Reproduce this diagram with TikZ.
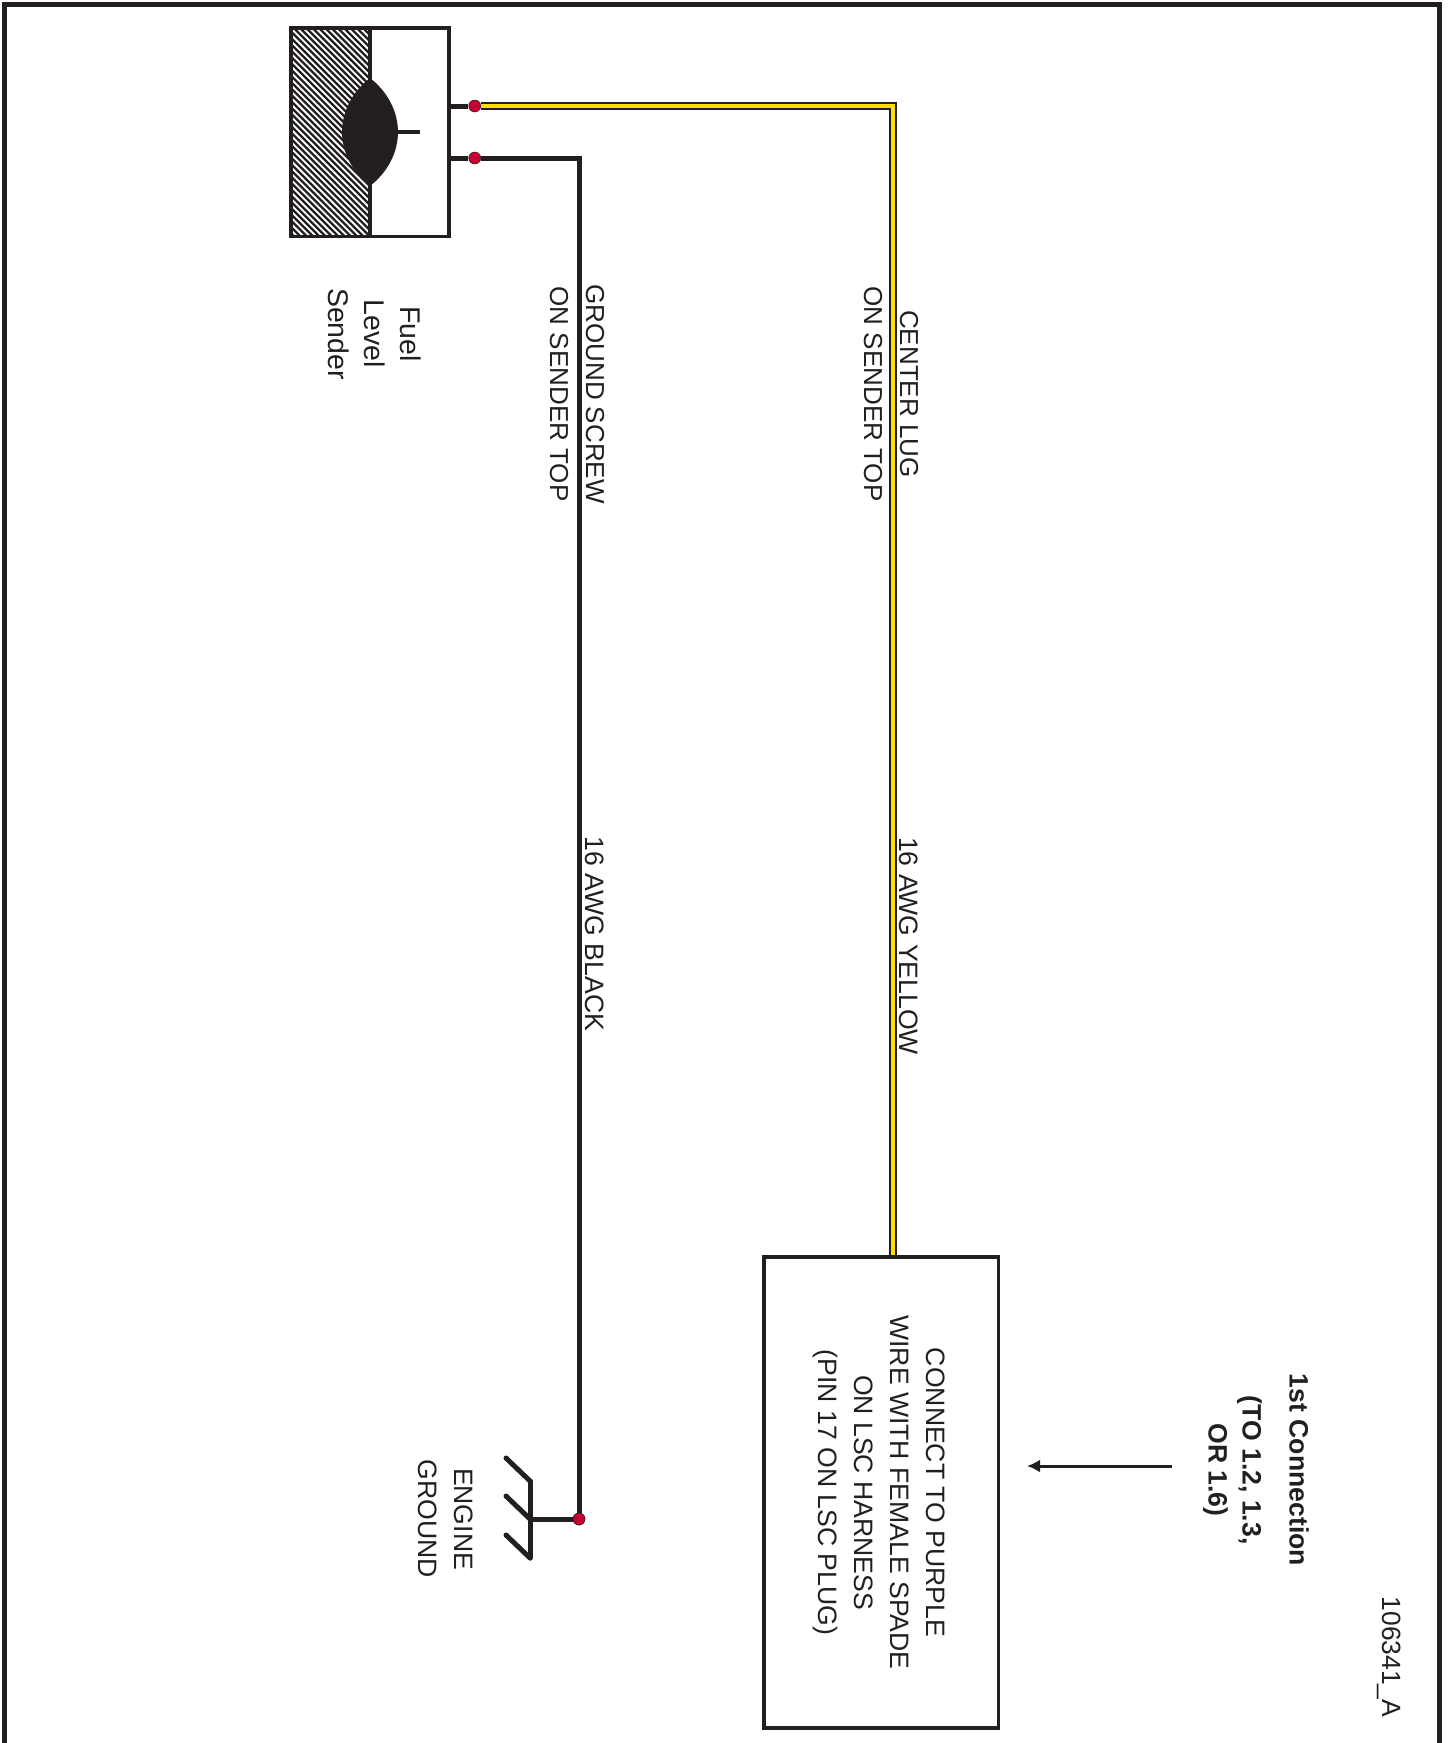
\documentclass[tikz,border=0pt]{standalone}
\usepackage{fontspec}
\setmainfont{Liberation Sans}
\usetikzlibrary{arrows.meta}
\definecolor{wirecol}{RGB}{35,31,32}
\definecolor{dotred}{RGB}{200,0,50}
\definecolor{wireyel}{RGB}{255,222,0}
\tikzset{
  label26/.style={rotate=-90,align=center,inner sep=0pt,font=\fontsize{26.6}{36}\selectfont,text=wirecol},
  reddot/.style={circle,fill=dotred,draw=wirecol,line width=0.5,minimum size=12,inner sep=0pt},
  blackwire/.style={line width=5,draw=wirecol},
  yellowwire/.style={line width=1.3,draw=wirecol,double=wireyel,double distance=4.6}
}
\begin{document}
\begin{tikzpicture}[x=1pt,y=-1pt,line join=miter]
\useasboundingbox (0,0) rectangle (1448,1743);
% outer frame
\draw[line width=5,wirecol] (4.5,1743)--(4.5,4.5)--(1439.5,4.5)--(1439.5,1743);
% sender
\begin{scope}
\clip (290,27) rectangle (370,237);
\foreach \i in {-240,-233.7,...,100}
  \draw[line width=2.3,wirecol] (280+\i,20)--(280+\i+240,260);
\end{scope}
\node[draw=wirecol,line width=3.6,minimum width=157.7,minimum height=208.7,inner sep=0pt] (sender) at (370,132.3) {};
\draw[wirecol,line width=4] (370,28)--(370,236.7);
\fill[wirecol] (370,78) .. controls (388,92) and (398,112) .. (398,132) .. controls (398,152) and (388,172) .. (370,186) .. controls (352,172) and (342,152) .. (342,132) .. controls (342,112) and (352,92) .. (370,78) -- cycle;
\draw[wirecol,line width=4] (396,132)--(420,132);
\node[reddot] (dotyel) at (474.7,106) {};
\node[reddot] (dotblk) at (474.7,158) {};
\node[draw=wirecol,line width=3.5,minimum width=234.5,minimum height=471,inner sep=0pt] (lscbox) at (881,1492.5) {};
\coordinate (yelcorner) at (893,106);
\coordinate (blkcorner) at (579,158);
\node[reddot] (dotgnd) at (579,1519) {};
\coordinate (gndbar) at (530,1519);
% wires
\draw[blackwire] (sender.east |- dotyel)--(dotyel);
\draw[blackwire] (sender.east |- dotblk)--(dotblk);
\draw[yellowwire] (dotyel.east)--(yelcorner)--(yelcorner |- lscbox.north);
\draw[blackwire] (dotblk.east)--(blkcorner)--(dotgnd.north);
\draw[blackwire] (dotgnd.west)--(gndbar);
% ground symbol
\draw[blackwire,line cap=round] (530,1481)--(530,1558);
\foreach \y in {1481,1519,1558}
  \draw[blackwire,line cap=round] (530,\y)--(506,\y-23);
\node[reddot] at (dotgnd) {};
% labels
\node[label26,font=\fontsize{28.5}{36}\selectfont] (fuel) at (375,334) {Fuel\\Level\\Sender};
\node[label26,font=\fontsize{26}{36}\selectfont] (gscrew) at (577,394) {GROUND SCREW\\ON SENDER TOP};
\node[label26,font=\fontsize{26}{36}\selectfont] (clug) at (891,394) {CENTER LUG\\ON SENDER TOP};
\node[label26] (awgblk) at (595,934) {16 AWG BLACK};
\node[label26] (awgyel) at (909,946) {16 AWG YELLOW};
\node[label26] (gndtxt) at (446,1519) {ENGINE\\GROUND};
\node[label26] at (879,1492.5) {CONNECT TO PURPLE\\WIRE WITH FEMALE SPADE\\ON LSC HARNESS\\(PIN 17 ON LSC PLUG)};
\node[label26,font=\fontsize{26.6}{34}\selectfont\bfseries] (first) at (1256,1470) {1st Connection\\[13pt](TO 1.2, 1.3,\\OR 1.6)};
\node[label26,font=\fontsize{26.4}{30}\selectfont] (partno) at (1389,1657) {106341\_A};
\coordinate (arrowend) at (1172,1466);
\draw[wirecol,line width=3,-{Latex[length=13,width=13]}] (arrowend)--(1027,1466);
\end{tikzpicture}
\end{document}
